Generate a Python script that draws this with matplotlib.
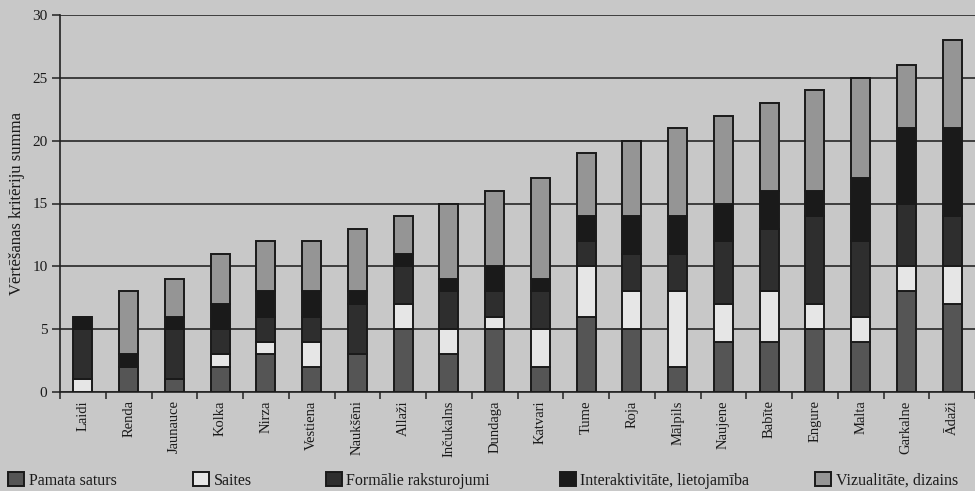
import numpy as np
import matplotlib
matplotlib.use("Agg")
import matplotlib.pyplot as plt

plt.rcParams['font.family'] = ['Liberation Serif', 'DejaVu Serif']

municipalities = ["Laidi", "Renda", "Jaunauce", "Kolka", "Nirza", "Vestiena", "Naukšēni",
                  "Allaži", "Inčukalns", "Dundaga", "Katvari", "Tume", "Roja", "Mālpils",
                  "Naujene", "Babīte", "Engure", "Malta", "Garkalne", "Ādaži"]

pamata_saturs = [0, 2, 1, 2, 3, 2, 3, 5, 3, 5, 2, 6, 5, 2, 4, 4, 5, 4, 8, 7]
saites        = [1, 0, 0, 1, 1, 2, 0, 2, 2, 1, 3, 4, 3, 6, 3, 4, 2, 2, 2, 3]
formalie      = [4, 0, 4, 2, 2, 2, 4, 3, 3, 2, 3, 2, 3, 3, 5, 5, 7, 6, 5, 4]
interaktivitate = [1, 1, 1, 2, 2, 2, 1, 1, 1, 2, 1, 2, 3, 3, 3, 3, 2, 5, 6, 7]
vizualitate   = [0, 5, 3, 4, 4, 4, 5, 3, 6, 6, 8, 5, 6, 7, 7, 7, 8, 8, 5, 7]

series_names = ["Pamata saturs", "Saites", "Formālie raksturojumi",
                "Interaktivitāte, lietojamība", "Vizualitāte, dizains"]
series_values = [pamata_saturs, saites, formalie, interaktivitate, vizualitate]
series_colors = ["#555555", "#e6e6e6", "#2e2e2e", "#1a1a1a", "#959595"]

bg = "#c8c8c8"
fig = plt.figure(figsize=(9.75, 4.91), dpi=100, facecolor=bg)
ax = fig.add_axes([60 / 975, 1 - 392 / 491, 1 - 60 / 975, (392 - 15) / 491])
ax.set_facecolor(bg)

x = np.arange(len(municipalities))
bottom = np.zeros(len(municipalities))
handles = []
for name, vals, col in zip(series_names, series_values, series_colors):
    vals = np.array(vals, dtype=float)
    b = ax.bar(x, vals, width=0.42, bottom=bottom, color=col, edgecolor="#1a1a1a",
               linewidth=1.4, label=name, zorder=3)
    handles.append(b)
    bottom += vals

ax.set_xlim(-0.5, len(municipalities) - 0.5)
ax.set_ylim(0, 30)
ax.set_yticks(np.arange(0, 31, 5))
ax.yaxis.grid(True, color="#262626", linewidth=1.2, zorder=1)
ax.set_axisbelow(True)

for s in ["top", "right"]:
    ax.spines[s].set_visible(False)
ax.spines["left"].set_color("#222222")
ax.spines["bottom"].set_color("#222222")
ax.spines["left"].set_linewidth(1.2)
ax.spines["bottom"].set_linewidth(1.2)

# tick marks sit between the categories, labels sit under each bar
ax.set_xticks(np.arange(-0.5, len(municipalities), 1.0))
ax.set_xticklabels([])
ax.set_xticks(x, minor=True)
ax.set_xticklabels(municipalities, minor=True, rotation=90, fontsize=10.5, color="#1a1a1a")
ax.tick_params(axis="x", which="minor", length=0, pad=6)
ax.tick_params(axis="x", which="major", length=5, width=1.1, color="#222222", direction="out")
ax.tick_params(axis="y", length=6, width=1.1, color="#222222", labelsize=11,
               labelcolor="#1a1a1a", pad=3)

ax.set_ylabel("Vērtēšanas kritēriju summa", fontsize=12, color="#1a1a1a", labelpad=5)

# legend entries laid out along the bottom edge
legend_x = [0.008, 0.198, 0.334, 0.574, 0.836]
for h, name, lx in zip(handles, series_names, legend_x):
    fig.legend([h], [name], loc="center left", bbox_to_anchor=(lx, 0.022), frameon=False,
               fontsize=11.5, handlelength=1.0, handleheight=1.0, handletextpad=0.3,
               borderpad=0.0, borderaxespad=0.0, labelcolor="#1a1a1a")

fig.savefig("out.png", dpi=100, facecolor=bg)
